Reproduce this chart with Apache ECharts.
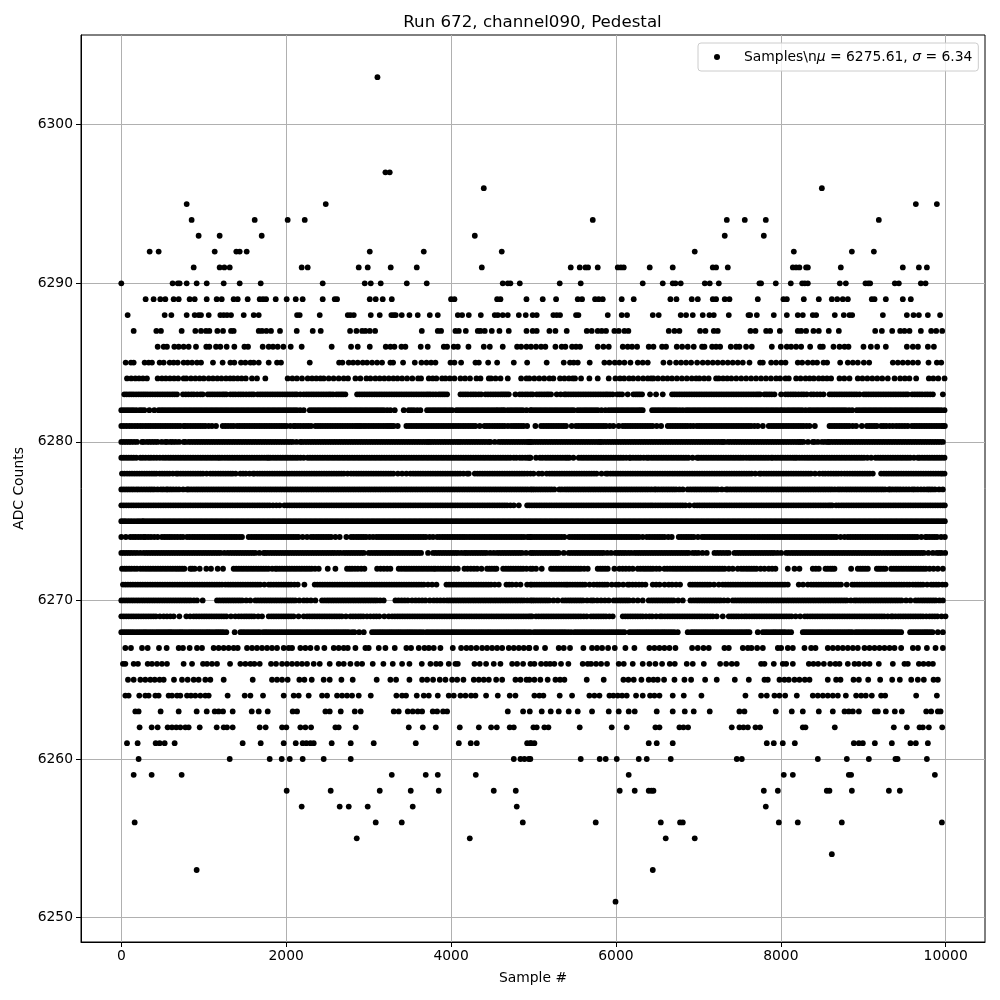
<!DOCTYPE html>
<html><head><meta charset="utf-8">
<script src="https://cdn.jsdelivr.net/npm/echarts@6/dist/echarts.min.js"></script>
<style>html,body{margin:0;padding:0;background:#fff}#c{width:1000px;height:1000px}</style>
</head><body><div id="c"></div>
<script>
const xTicks=[0,2000,4000,6000,8000,10000];
const yTicks=[6250,6260,6270,6280,6290,6300];
const r6303=[3107];
const r6297=[3204,3256];
const r6296=[4397,8498];
const r6295=[793,2480,9638,9893];
const r6294=[853,1618,2018,2225,5719,7345,7563,7818,9189];
const r6293=[938,1193,1703,4288,7320,7794];
const r6292=[344,453,1133,1395,1436,1521,3014,3669,4615,6956,8158,8862,9129];
const r6291=[878,1193,1250,1315,2188,2261,2880,2989,3268,3584,4373,5452,5561,5630,5662,5779,6022,6060,6095,6410,6689,7175,7215,7357,8146,8186,8226,8307,8328,8728,9480,9675,9772];
const r6290=[0,622,685,708,793,914,1036,1242,1436,1691,2443,2953,3026,3147,3463,3705,4627,4688,4720,4834,5318,5573,6325,6568,6689,6722,6786,7078,7138,7248,7741,7761,7939,8121,8259,8291,8328,8716,8789,9027,9060,9084,9383,9432,9699,9756];
const r6289=[295,392,473,534,635,696,829,890,1036,1157,1218,1363,1412,1533,1679,1719,1756,1873,2006,2116,2200,2443,2589,2617,3014,3086,3171,3281,4000,4041,4559,4599,4915,5112,5274,5537,5589,5747,5791,5840,6070,6216,6661,6734,6920,6993,7175,7215,7320,7377,7721,8032,8073,8279,8461,8619,8684,8752,8813,9104,9137,9274,9480,9577];
const r6288=[77,526,607,793,890,938,967,1060,1201,1242,1283,1331,1485,1606,1667,2132,2164,2407,2747,2779,2820,3026,3135,3276,3305,3329,3402,3495,3596,3742,3839,4082,4134,4215,4361,4530,4567,4627,4688,4822,4906,4990,5039,5241,5282,5322,5516,5545,5901,6070,6135,6447,6519,6786,6851,6932,7053,7134,7187,7369,7608,7628,7709,7915,8073,8206,8267,8388,8429,8655,8764,8833,8866,9238,9529,9610,9675,9784,9932];
const r6287=[150,425,481,732,898,967,1027,1068,1165,1234,1331,1363,1667,1707,1760,1816,1925,2128,2322,2419,2775,2852,2921,2961,3014,3079,3645,3839,3879,4053,4094,4179,4324,4357,4409,4494,4587,4700,4915,4990,5039,5193,5266,5403,5646,5706,5779,5828,5880,5981,6034,6103,6151,6641,6710,6770,7021,7086,7187,7235,7632,7693,7822,7871,7988,8206,8247,8307,8396,8461,8582,8704,9145,9226,9351,9448,9500,9561,9699,9824,9885,9958];
const r6286=[441,514,554,643,696,756,817,906,1031,1068,1149,1201,1278,1371,1493,1537,1715,1788,1840,1897,1966,2055,2188,2552,2787,2868,3014,3208,3264,3313,3398,3446,3632,3717,3912,3952,4033,4082,4211,4397,4470,4627,4801,4850,4915,4970,5031,5092,5144,5266,5342,5387,5468,5516,5565,5779,5848,5913,6083,6143,6196,6257,6398,6455,6560,6608,6738,6803,6871,6944,7045,7074,7167,7215,7264,7393,7458,7498,7579,7648,7891,8000,8073,8125,8186,8247,8356,8477,8510,8639,8712,8773,8821,9003,9092,9169,9274,9529,9602,9664,9784,9857];
const r6285=[53,117,150,283,332,372,465,514,587,635,684,756,805,858,918,967,1112,1229,1323,1371,1452,1505,1566,1606,1667,1788,1889,1937,2286,2642,2682,2759,2812,2868,2929,2981,3042,3103,3163,3264,3297,3418,3560,3641,3702,3758,3811,3993,4041,4122,4296,4337,4450,4559,4761,4923,5160,5367,5443,5488,5537,5682,5860,5921,5986,6042,6103,6176,6265,6325,6386,6576,6653,6730,6790,6851,6912,6985,7053,7114,7175,7235,7296,7357,7417,7478,7539,7620,7749,7782,7883,7943,8004,8057,8206,8259,8328,8388,8440,8518,8562,8720,8813,8874,8934,9007,9072,9359,9420,9480,9541,9602,9664,9792,9893,9946];
const r6284=[69,120,170,215,262,311,441,493,540,590,640,690,756,789,845,898,950,1000,1060,1112,1165,1215,1270,1320,1363,1412,1460,1510,1585,1646,1747,2018,2075,2130,2192,2261,2314,2365,2415,2455,2516,2575,2637,2698,2750,2840,2900,2973,3022,3082,3135,3190,3245,3300,3350,3406,3467,3530,3600,3636,3730,3778,3822,3891,3932,3985,4041,4114,4170,4230,4308,4357,4458,4486,4540,4600,4688,4850,4915,4950,5010,5070,5130,5193,5241,5322,5375,5430,5476,5504,5577,5678,5779,5913,5994,6050,6100,6160,6210,6270,6330,6386,6426,6455,6510,6570,6625,6680,6740,6800,6860,6920,6973,7013,7070,7125,7215,7248,7300,7350,7400,7460,7520,7580,7640,7700,7760,7820,7880,7943,7992,8057,8097,8186,8240,8300,8350,8400,8460,8510,8560,8610,8712,8770,8833,8934,8990,9050,9110,9170,9230,9298,9380,9448,9505,9560,9642,9796,9850,9910,9986];
const r6283=[36,95,150,210,265,320,380,440,500,560,620,676,748,815,880,959,987,1048,1105,1165,1225,1275,1323,1355,1420,1480,1550,1606,1654,1715,1775,1835,1895,1955,2015,2075,2130,2172,2213,2275,2335,2395,2455,2515,2569,2609,2665,2718,2860,2920,2980,3040,3100,3160,3220,3280,3340,3400,3460,3520,3580,3640,3700,3750,3782,3850,3900,3952,4114,4175,4240,4300,4365,4417,4480,4540,4600,4650,4700,4781,4834,4900,4963,4990,5039,5100,5160,5213,5282,5330,5375,5395,5455,5515,5575,5635,5695,5755,5815,5875,5929,5961,6015,6075,6143,6212,6265,6317,6414,6487,6568,6681,6740,6800,6860,6920,6980,7040,7100,7160,7220,7280,7340,7400,7460,7520,7580,7640,7700,7749,7802,7860,7923,8004,8057,8120,8180,8250,8315,8368,8440,8518,8591,8650,8710,8770,8830,8890,8955,9007,9065,9125,9185,9245,9305,9365,9425,9485,9541,9594,9655,9715,9780,9845,9966];
const e6283=[65,122,180,238,292,350,410,470,530,590,648,782,850,920,1076,1135,1195,1250,1385,1450,1515,1580,1685,1745,1805,1865,1925,1985,2045,2105,2245,2305,2365,2425,2485,2540,2637,2690,2890,2950,3010,3070,3130,3190,3250,3310,3370,3430,3490,3550,3610,3670,3725,3815,3875,3925,4145,4205,4270,4335,4448,4510,4570,4625,4675,4865,4930,5070,5130,5185,5425,5485,5545,5605,5665,5725,5785,5845,5900,6045,6240,6290,6710,6770,6830,6890,6950,7010,7070,7130,7190,7250,7310,7370,7430,7490,7550,7610,7670,7725,7830,7890,8088,8150,8215,8280,8400,8478,8620,8680,8740,8800,8860,8920,9035,9095,9155,9215,9275,9335,9395,9455,9515,9625,9685,9750,9812];
const r6282=[0,60,120,182,222,280,340,400,453,510,570,630,690,750,810,870,930,990,1050,1110,1170,1230,1290,1350,1410,1470,1530,1590,1650,1710,1770,1830,1890,1950,2010,2070,2130,2213,2286,2345,2405,2465,2525,2585,2645,2705,2765,2825,2885,2945,3005,3065,3125,3185,3264,3317,3426,3487,3550,3628,3709,3770,3830,3890,3950,4013,4065,4125,4185,4245,4305,4365,4425,4485,4545,4600,4648,4688,4750,4810,4870,4963,5010,5070,5130,5190,5250,5310,5370,5430,5488,5537,5600,5660,5720,5780,5872,5913,5975,6035,6095,6155,6215,6275,6325,6439,6500,6560,6620,6680,6740,6811,6851,6910,6970,7030,7090,7150,7210,7270,7330,7390,7450,7510,7570,7630,7690,7750,7810,7870,7930,7992,8016,8080,8140,8200,8260,8340,8368,8430,8490,8550,8610,8670,8730,8790,8866,8922,8985,9045,9105,9165,9225,9285,9345,9405,9465,9525,9585,9645,9705,9765,9825,9885,9946,9986];
const e6282=[30,90,150,250,482,540,600,660,720,780,840,900,960,1020,1080,1140,1200,1260,1320,1380,1440,1500,1560,1620,1680,1740,1800,1860,1920,1980,2040,2100,2170,2315,2375,2435,2495,2555,2615,2675,2735,2795,2855,2915,2975,3035,3095,3155,3225,3518,3590,3740,3800,3860,3920,3982,4095,4155,4215,4275,4335,4395,4455,4515,4570,4625,4720,4780,4840,4915,4980,5040,5100,5160,5220,5280,5340,5400,5460,5568,5630,5690,5750,5825,5944,6005,6065,6125,6185,6245,6300,6470,6530,6590,6650,6710,6775,6880,6940,7000,7060,7120,7180,7240,7300,7360,7420,7480,7540,7600,7660,7720,7780,7840,7900,7960,8048,8110,8170,8230,8300,8400,8460,8520,8580,8640,8700,8760,8828,8953,9015,9075,9135,9195,9255,9315,9375,9435,9495,9555,9615,9675,9735,9795,9855,9915];
const r6281=[0,65,130,198,231,295,355,415,475,535,595,655,715,756,777,840,900,960,1020,1100,1149,1230,1295,1363,1404,1465,1525,1585,1645,1705,1765,1825,1885,1945,2005,2091,2111,2175,2240,2302,2354,2415,2475,2535,2595,2655,2715,2775,2835,2885,2941,2969,3030,3090,3150,3210,3260,3305,3353,3458,3520,3580,3640,3700,3760,3820,3880,3940,4000,4060,4120,4180,4240,4296,4348,4405,4465,4530,4590,4650,4729,4761,4820,4880,4923,5023,5092,5155,5215,5275,5335,5395,5464,5516,5580,5640,5700,5760,5820,5880,5969,6034,6083,6145,6205,6265,6325,6385,6445,6548,6629,6690,6750,6810,6870,6940,6981,7040,7100,7160,7220,7280,7340,7400,7460,7520,7580,7640,7721,7782,7854,7915,7975,8035,8095,8155,8215,8275,8348,8413,8591,8650,8710,8770,8830,8914,8983,9044,9105,9165,9217,9280,9359,9400,9470,9541,9590,9650,9710,9770,9830,9890,9950,9990];
const e6281=[32,98,165,262,325,385,445,505,565,625,685,808,870,930,990,1060,1262,1330,1435,1495,1555,1615,1675,1735,1795,1855,1915,1975,2050,2143,2208,2270,2385,2445,2505,2565,2625,2685,2745,2805,2860,2910,3000,3060,3120,3180,3235,3282,3490,3550,3610,3670,3730,3790,3850,3910,3970,4030,4090,4150,4210,4268,4435,4498,4560,4620,4690,4790,4850,5124,5185,5245,5305,5365,5548,5610,5670,5730,5790,5850,5925,6114,6175,6235,6295,6355,6415,6495,6660,6720,6780,6840,6905,7010,7070,7130,7190,7250,7310,7370,7430,7490,7550,7610,7680,7885,7945,8005,8065,8125,8185,8245,8312,8620,8680,8740,8800,8872,9075,9135,9248,9320,9435,9505,9620,9680,9740,9800,9860,9920,9970];
const r6280=[0,60,120,190,251,271,311,375,440,534,554,595,660,756,777,817,880,940,1000,1060,1120,1180,1240,1300,1360,1420,1480,1540,1600,1660,1720,1780,1840,1900,1960,2020,2080,2172,2192,2255,2315,2375,2435,2495,2555,2615,2675,2735,2795,2855,2915,2975,3035,3095,3155,3215,3275,3335,3395,3455,3515,3575,3635,3695,3742,3770,3830,3890,3950,4010,4070,4122,4154,4215,4275,4335,4395,4458,4478,4579,4611,4670,4730,4790,4850,4910,4963,4950,5010,5070,5130,5190,5250,5310,5370,5430,5490,5550,5610,5670,5730,5790,5832,5895,5955,6015,6075,6135,6195,6255,6315,6375,6435,6495,6555,6615,6675,6735,6795,6855,6915,6975,7035,7095,7155,7215,7275,7316,7357,7420,7480,7540,7600,7660,7720,7780,7840,7900,7960,8020,8080,8140,8200,8247,8275,8388,8408,8500,8570,8582,8645,8705,8765,8825,8885,8945,9005,9065,9125,9185,9245,9305,9365,9425,9485,9545,9605,9665,9725,9785,9845,9905,9966];
const e6280=[30,90,155,342,408,490,625,700,848,910,970,1030,1090,1150,1210,1270,1330,1390,1450,1510,1570,1630,1690,1750,1810,1870,1930,1990,2050,2125,2225,2285,2345,2405,2465,2525,2585,2645,2705,2765,2825,2885,2945,3005,3065,3125,3185,3245,3305,3365,3425,3485,3545,3605,3665,3720,3800,3860,3920,3980,4040,4095,4185,4245,4305,4365,4425,4530,4640,4700,4760,4820,4880,4935,4980,5040,5100,5160,5220,5280,5340,5400,5460,5520,5580,5640,5700,5760,5810,5864,5925,5985,6045,6105,6165,6225,6285,6345,6405,6465,6525,6585,6645,6705,6765,6825,6885,6945,7005,7065,7125,7185,7245,7296,7388,7450,7510,7570,7630,7690,7750,7810,7870,7930,7990,8050,8110,8170,8225,8330,8450,8535,8613,8675,8735,8795,8855,8915,8975,9035,9095,9155,9215,9275,9335,9395,9455,9515,9575,9635,9695,9755,9815,9875,9935];
const r6279=[0,60,120,182,231,295,360,430,506,538,600,660,720,780,840,900,960,1020,1080,1140,1193,1222,1285,1345,1405,1465,1525,1585,1645,1705,1765,1808,1840,1900,1960,2020,2080,2140,2213,2261,2320,2380,2440,2500,2560,2620,2680,2740,2800,2860,2920,2980,3040,3100,3160,3220,3280,3340,3400,3460,3520,3580,3640,3700,3760,3820,3880,3940,4000,4060,4120,4180,4240,4300,4360,4420,4480,4540,4600,4660,4720,4761,4793,4834,4900,4963,4950,5031,5079,5145,5205,5265,5325,5385,5435,5484,5549,5610,5670,5730,5790,5850,5910,5970,6030,6090,6164,6176,6240,6300,6374,6398,6460,6520,6580,6640,6700,6760,6820,6880,6985,7005,7065,7125,7185,7245,7305,7365,7425,7485,7545,7612,7640,7700,7760,7820,7883,7903,7965,8025,8085,8145,8194,8226,8290,8350,8410,8470,8530,8590,8650,8710,8770,8830,8890,8950,9010,9096,9149,9210,9270,9330,9390,9450,9510,9570,9662,9683,9745,9805,9865,9925,9986];
const e6279=[30,90,150,262,330,395,468,570,630,690,750,810,870,930,990,1050,1110,1170,1255,1315,1375,1435,1495,1555,1615,1675,1735,1785,1870,1930,1990,2050,2110,2175,2290,2350,2410,2470,2530,2590,2650,2710,2770,2830,2890,2950,3010,3070,3130,3190,3250,3310,3370,3430,3490,3550,3610,3670,3730,3790,3850,3910,3970,4030,4090,4150,4210,4270,4330,4390,4450,4510,4570,4630,4690,4865,4930,5110,5175,5235,5295,5355,5410,5580,5640,5700,5760,5820,5880,5940,6000,6060,6125,6208,6270,6337,6430,6490,6550,6610,6670,6730,6790,6850,6930,7035,7095,7155,7215,7275,7335,7395,7455,7515,7580,7670,7730,7790,7850,7935,7995,8055,8115,8170,8258,8320,8380,8440,8500,8560,8620,8680,8740,8800,8860,8920,8980,9050,9180,9240,9300,9360,9420,9480,9540,9615,9714,9775,9835,9895,9955];
const r6278=[8,70,130,190,250,310,370,425,465,525,585,667,688,750,810,870,930,990,1080,1112,1175,1235,1295,1351,1387,1444,1510,1598,1614,1680,1740,1800,1860,1920,1980,2040,2100,2160,2220,2280,2340,2400,2460,2520,2580,2640,2700,2787,2819,2880,2940,3000,3060,3120,3180,3240,3300,3406,3458,3507,3570,3630,3690,3750,3810,3870,3930,3990,4050,4110,4195,4215,4288,4350,4410,4470,4530,4590,4650,4710,4770,4830,4890,4963,5063,5104,5160,5225,5285,5345,5405,5465,5525,5585,5645,5705,5765,5880,5901,5965,6025,6085,6145,6205,6265,6325,6385,6445,6505,6565,6625,6685,6745,6805,6865,6925,6985,7045,7105,7165,7225,7285,7345,7405,7465,7525,7585,7645,7741,7761,7825,7885,7945,8005,8065,8125,8185,8245,8305,8365,8469,8510,8575,8640,8700,8773,8805,8870,8930,8990,9050,9116,9217,9280,9340,9400,9460,9520,9580,9640,9700,9760,9820,9880,9940,9986];
const e6278=[38,100,160,220,280,340,398,495,555,625,720,780,840,900,960,1035,1143,1205,1265,1325,1477,1555,1650,1710,1770,1830,1890,1950,2010,2070,2130,2190,2250,2310,2370,2430,2490,2550,2610,2670,2745,2850,2910,2970,3030,3090,3150,3210,3270,3355,3540,3600,3660,3720,3780,3840,3900,3960,4020,4080,4150,4320,4380,4440,4500,4560,4620,4680,4740,4800,4860,4925,5000,5195,5255,5315,5375,5435,5495,5555,5615,5675,5735,5825,5935,5995,6055,6115,6175,6235,6295,6355,6415,6475,6535,6595,6655,6715,6775,6835,6895,6955,7015,7075,7135,7195,7255,7315,7375,7435,7495,7555,7615,7690,7795,7855,7915,7975,8035,8095,8155,8215,8275,8335,8415,8540,8608,8670,8735,8838,8900,8960,9020,9080,9250,9310,9370,9430,9490,9550,9610,9670,9730,9790,9850,9910,9960];
const r6277=[0,60,120,182,210,275,340,400,480,546,566,630,700,797,817,880,940,1000,1060,1120,1180,1240,1300,1360,1420,1480,1540,1600,1660,1720,1780,1840,1900,1960,2020,2080,2140,2200,2260,2320,2380,2440,2500,2560,2620,2680,2740,2800,2860,2920,2980,3040,3100,3160,3220,3280,3340,3400,3460,3520,3580,3640,3700,3760,3820,3880,3940,4000,4060,4120,4180,4240,4300,4360,4420,4480,4540,4600,4660,4720,4780,4840,4900,4963,5010,5070,5130,5190,5253,5314,5380,5440,5500,5560,5620,5680,5740,5800,5860,5920,5980,6040,6100,6160,6220,6280,6340,6400,6467,6487,6550,6610,6670,6730,6811,6871,6935,6995,7055,7115,7175,7235,7337,7357,7420,7480,7540,7600,7660,7720,7780,7840,7900,7960,8020,8080,8140,8200,8260,8320,8380,8440,8500,8560,8620,8692,8720,8785,8845,8905,8965,9025,9085,9145,9205,9265,9310,9327,9390,9450,9520,9594,9622,9700,9776,9804,9870,9966];
const e6277=[30,90,150,242,308,370,440,510,598,665,750,848,910,970,1030,1090,1150,1210,1270,1330,1390,1450,1510,1570,1630,1690,1750,1810,1870,1930,1990,2050,2110,2170,2230,2290,2350,2410,2470,2530,2590,2650,2710,2770,2830,2890,2950,3010,3070,3130,3190,3250,3310,3370,3430,3490,3550,3610,3670,3730,3790,3850,3910,3970,4030,4090,4150,4210,4270,4330,4390,4450,4510,4570,4630,4690,4750,4810,4870,4930,4985,5040,5100,5160,5220,5345,5410,5470,5530,5590,5650,5710,5770,5830,5890,5950,6010,6070,6130,6190,6250,6310,6370,6432,6518,6580,6640,6700,6770,6903,6965,7025,7085,7145,7205,7285,7388,7450,7510,7570,7630,7690,7750,7810,7870,7930,7990,8050,8110,8170,8230,8290,8350,8410,8470,8530,8590,8655,8752,8815,8875,8935,8995,9055,9115,9175,9235,9358,9420,9485,9555,9660,9738,9835,9920];
const r6276=[0,60,120,180,240,300,360,420,480,540,600,660,720,780,840,900,960,1020,1080,1140,1200,1260,1320,1380,1440,1500,1560,1620,1680,1740,1800,1881,1921,1978,2040,2100,2160,2220,2280,2340,2400,2460,2520,2580,2640,2700,2760,2820,2880,2940,3000,3060,3120,3180,3240,3300,3360,3420,3480,3540,3600,3660,3720,3780,3840,3900,3960,4020,4080,4140,4200,4260,4320,4380,4440,4500,4560,4620,4680,4761,4822,4923,4950,5010,5070,5130,5190,5250,5310,5370,5430,5490,5550,5610,5670,5730,5790,5850,5910,5970,6030,6090,6150,6210,6270,6330,6390,6447,6479,6540,6600,6660,6720,6780,6843,6892,6952,7015,7075,7135,7195,7255,7315,7375,7435,7495,7555,7615,7675,7735,7795,7855,7915,7975,8035,8095,8155,8215,8275,8335,8395,8455,8515,8575,8623,8671,8735,8795,8855,8915,8975,9035,9095,9155,9215,9275,9335,9395,9455,9515,9575,9635,9695,9755,9815,9875,9935,9990];
const e6276=[30,90,150,210,270,330,390,450,510,570,630,690,750,810,870,930,990,1050,1110,1170,1230,1290,1350,1410,1470,1530,1590,1650,1710,1770,1840,2010,2070,2130,2190,2250,2310,2370,2430,2490,2550,2610,2670,2730,2790,2850,2910,2970,3030,3090,3150,3210,3270,3330,3390,3450,3510,3570,3630,3690,3750,3810,3870,3930,3990,4050,4110,4170,4230,4290,4350,4410,4470,4530,4590,4650,4720,4980,5040,5100,5160,5220,5280,5340,5400,5460,5520,5580,5640,5700,5760,5820,5880,5940,6000,6060,6120,6180,6240,6300,6360,6420,6510,6570,6630,6690,6750,6810,6985,7045,7105,7165,7225,7285,7345,7405,7465,7525,7585,7645,7705,7765,7825,7885,7945,8005,8065,8125,8185,8245,8305,8365,8425,8485,8545,8600,8703,8765,8825,8885,8945,9005,9065,9125,9185,9245,9305,9365,9425,9485,9545,9605,9665,9725,9785,9845,9905,9965];
const r6275=[0,55,120,190,251,271,330,390,450,510,570,630,690,750,810,870,930,990,1050,1110,1170,1230,1290,1350,1410,1470,1530,1590,1650,1710,1770,1830,1890,1950,2010,2070,2130,2190,2250,2310,2370,2430,2490,2550,2610,2670,2730,2790,2850,2910,2970,3030,3090,3150,3210,3270,3330,3390,3450,3510,3570,3630,3690,3750,3810,3870,3930,3990,4050,4110,4170,4230,4290,4350,4410,4470,4530,4590,4650,4710,4770,4830,4890,4950,5010,5070,5130,5190,5250,5310,5370,5430,5490,5550,5610,5670,5730,5790,5850,5910,5970,6030,6090,6150,6210,6270,6330,6390,6450,6510,6570,6630,6690,6750,6810,6870,6930,6990,7050,7110,7170,7230,7290,7350,7410,7470,7530,7590,7650,7710,7770,7830,7890,7950,8010,8070,8130,8190,8250,8310,8370,8430,8490,8550,8610,8670,8730,8790,8850,8910,8970,9030,9090,9150,9210,9270,9330,9390,9450,9510,9570,9630,9690,9750,9810,9870,9930,9990];
const e6275=[28,88,155,220,300,360,420,480,540,600,660,720,780,840,900,960,1020,1080,1140,1200,1260,1320,1380,1440,1500,1560,1620,1680,1740,1800,1860,1920,1980,2040,2100,2160,2220,2280,2340,2400,2460,2520,2580,2640,2700,2760,2820,2880,2940,3000,3060,3120,3180,3240,3300,3360,3420,3480,3540,3600,3660,3720,3780,3840,3900,3960,4020,4080,4140,4200,4260,4320,4380,4440,4500,4560,4620,4680,4740,4800,4860,4920,4980,5040,5100,5160,5220,5280,5340,5400,5460,5520,5580,5640,5700,5760,5820,5880,5940,6000,6060,6120,6180,6240,6300,6360,6420,6480,6540,6600,6660,6720,6780,6840,6900,6960,7020,7080,7140,7200,7260,7320,7380,7440,7500,7560,7620,7680,7740,7800,7860,7920,7980,8040,8100,8160,8220,8280,8340,8400,8460,8520,8580,8640,8700,8760,8820,8880,8940,9000,9060,9120,9180,9240,9300,9360,9420,9480,9540,9600,9660,9720,9780,9840,9900,9960];
const r6274=[0,109,142,205,271,291,360,441,493,555,615,680,748,797,860,920,980,1040,1100,1160,1220,1280,1340,1400,1464,1545,1610,1670,1730,1790,1850,1910,1970,2030,2090,2150,2253,2302,2365,2425,2485,2545,2649,2730,2787,2850,2910,2970,3054,3094,3155,3215,3275,3335,3395,3455,3515,3575,3635,3695,3782,3831,3895,3955,4015,4075,4134,4162,4225,4285,4345,4405,4465,4525,4585,4645,4705,4765,4825,4885,4963,4950,5010,5070,5130,5190,5250,5310,5375,5435,5500,5560,5620,5680,5740,5800,5860,5920,5980,6040,6100,6160,6220,6280,6374,6406,6470,6530,6590,6677,6762,6825,6885,6945,7045,7074,7135,7195,7255,7315,7375,7435,7495,7555,7615,7680,7713,7775,7835,7895,7955,8015,8075,8135,8195,8255,8315,8375,8435,8495,8555,8615,8675,8773,8813,8875,8935,8995,9055,9115,9175,9235,9295,9355,9415,9475,9535,9595,9655,9756,9772,9835,9895,9990];
const e6274=[55,172,238,325,400,525,585,648,715,828,890,950,1010,1070,1130,1190,1250,1310,1370,1432,1578,1640,1700,1760,1820,1880,1940,2000,2060,2120,2200,2333,2395,2455,2515,2597,2818,2880,2940,3012,3125,3185,3245,3305,3365,3425,3485,3545,3605,3665,3740,3863,3925,3985,4045,4105,4193,4255,4315,4375,4435,4495,4555,4615,4675,4735,4795,4855,4925,4980,5040,5100,5160,5220,5280,5342,5468,5530,5590,5650,5710,5770,5830,5890,5950,6010,6070,6130,6190,6250,6325,6438,6500,6560,6635,6793,6855,6915,6995,7105,7165,7225,7285,7345,7405,7465,7525,7585,7648,7744,7805,7865,7925,7985,8045,8105,8165,8225,8285,8345,8405,8465,8525,8585,8645,8725,8844,8905,8965,9025,9085,9145,9205,9265,9325,9385,9445,9505,9565,9625,9705,9803,9865,9945];
const r6273=[0,60,120,190,271,303,365,425,485,545,605,665,725,785,845,905,965,1025,1085,1145,1205,1290,1323,1385,1445,1505,1565,1625,1727,1747,1810,1870,1930,1990,2050,2110,2170,2230,2290,2350,2410,2470,2530,2590,2658,2698,2760,2820,2880,2941,3001,3065,3125,3185,3244,3272,3335,3395,3455,3515,3575,3636,3721,3782,3845,3905,3965,4025,4085,4162,4187,4250,4310,4370,4430,4518,4559,4620,4680,4740,4800,4860,4963,5010,5070,5130,5190,5250,5306,5367,5427,5490,5550,5610,5670,5730,5790,5850,5941,5994,6055,6115,6184,6224,6285,6345,6405,6465,6525,6585,6645,6705,6765,6825,6883,6932,7000,7102,7195,7265,7337,7369,7438,7500,7560,7620,7680,7740,7800,7860,7920,8004,8065,8130,8190,8250,8310,8370,8430,8490,8550,8610,8670,8730,8790,8850,8910,8970,9030,9090,9150,9210,9278,9310,9375,9435,9495,9555,9615,9675,9735,9845,9893,9950,9994];
const e6273=[30,90,155,230,334,395,455,515,575,635,695,755,815,875,935,995,1055,1115,1175,1250,1354,1415,1475,1535,1595,1675,1778,1840,1900,1960,2020,2080,2140,2200,2260,2320,2380,2440,2500,2560,2625,2729,2790,2850,2910,3033,3095,3155,3215,3303,3365,3425,3485,3545,3605,3813,3875,3935,3995,4055,4125,4218,4280,4340,4400,4475,4590,4650,4710,4770,4830,4910,4985,5040,5100,5160,5220,5278,5458,5520,5580,5640,5700,5760,5820,5895,6025,6085,6150,6255,6315,6375,6435,6495,6555,6615,6675,6735,6795,6855,6965,7050,7230,7300,7470,7530,7590,7650,7710,7770,7830,7890,7960,8097,8160,8220,8280,8340,8400,8460,8520,8580,8640,8700,8760,8820,8880,8940,9000,9060,9120,9180,9245,9343,9405,9465,9525,9585,9645,9705,9790,9922];
const r6272=[8,65,125,190,231,295,355,415,475,535,595,655,710,765,837,890,951,1031,1088,1169,1234,1363,1425,1485,1545,1605,1665,1725,1785,1869,1889,1950,2010,2070,2130,2190,2250,2310,2395,2504,2597,2738,2800,2870,2949,3103,3185,3264,3365,3430,3490,3550,3610,3670,3730,3790,3810,3875,3935,3995,4082,4162,4240,4316,4369,4437,4495,4551,4632,4695,4755,4815,4875,4963,5031,5100,5213,5275,5335,5395,5455,5515,5575,5658,5779,5840,5901,5981,6042,6120,6204,6265,6330,6390,6450,6528,6588,6657,6720,6780,6840,6900,6960,7020,7080,7140,7200,7260,7320,7417,7478,7519,7585,7645,7705,7802,7854,7935,8085,8166,8226,8388,8461,8542,8600,8651,8853,8934,8995,9056,9165,9215,9270,9339,9400,9460,9520,9580,9640,9700,9760,9853,9905,9966];
const e6272=[38,95,158,263,325,385,445,505,565,625,682,738,860,1394,1455,1515,1575,1635,1695,1755,1830,1920,1980,2040,2100,2160,2220,2280,2350,2770,2835,2910,3145,3225,3397,3460,3520,3580,3640,3700,3760,3842,3905,3965,4040,4200,4278,4466,4525,4665,4725,4785,4845,4915,4990,5244,5305,5365,5425,5485,5545,5615,5810,5870,6082,6160,6297,6360,6420,6490,6622,6690,6750,6810,6870,6930,6990,7050,7110,7170,7230,7290,7370,7552,7615,7675,7755,7895,8425,8570,8625,8965,9025,9190,9243,9370,9430,9490,9550,9610,9670,9730,9805];
const r6271=[20,80,140,200,260,320,380,440,500,560,620,680,740,800,860,920,980,1040,1100,1160,1222,1262,1325,1385,1445,1505,1565,1625,1685,1788,1816,1880,1940,2000,2060,2140,2221,2346,2410,2470,2530,2590,2650,2710,2770,2830,2890,2950,3010,3070,3130,3190,3250,3310,3370,3430,3490,3550,3610,3670,3770,3823,3944,4005,4065,4125,4185,4245,4305,4365,4425,4485,4579,4672,4740,4842,4923,4963,5010,5070,5130,5190,5250,5310,5370,5415,5443,5505,5565,5625,5731,5771,5835,5895,6002,6034,6143,6164,6240,6317,6358,6447,6530,6641,6681,6778,6900,6960,7020,7080,7140,7248,7296,7360,7420,7480,7540,7600,7660,7720,7780,7840,7900,7960,8020,8085,8218,8328,8368,8430,8490,8550,8610,8670,8730,8866,8894,8955,9015,9075,9135,9195,9255,9315,9375,9435,9495,9561,9602,9665,9725,9824,9853,9915,9998];
const e6271=[50,110,170,230,290,350,410,470,530,590,650,710,770,830,890,950,1010,1070,1130,1190,1295,1355,1415,1475,1535,1595,1655,1735,1848,1910,1970,2030,2100,2378,2440,2500,2560,2620,2680,2740,2800,2860,2920,2980,3040,3100,3160,3220,3280,3340,3400,3460,3520,3580,3640,3720,3975,4035,4095,4155,4215,4275,4335,4395,4455,4530,4705,4790,4980,5040,5100,5160,5220,5280,5340,5395,5474,5535,5595,5680,5803,5865,5950,6088,6202,6280,6488,6590,6730,6930,6990,7050,7110,7190,7328,7390,7450,7510,7570,7630,7690,7750,7810,7870,7930,7990,8050,8270,8399,8460,8520,8580,8640,8700,8800,8925,8985,9045,9105,9165,9225,9285,9345,9405,9465,9530,9635,9695,9775,9885,9960];
const r6270=[0,60,120,180,240,300,360,420,480,540,600,660,720,780,840,918,987,1161,1225,1285,1345,1405,1465,1565,1626,1690,1750,1810,1870,1930,1990,2050,2110,2213,2253,2354,2435,2500,2560,2620,2680,2740,2800,2860,2920,2980,3040,3100,3183,3325,3400,3475,3527,3610,3689,3742,3790,3870,3952,3984,4045,4105,4165,4225,4285,4345,4405,4465,4525,4585,4645,4705,4765,4825,4885,4963,5010,5070,5130,5190,5294,5355,5420,5480,5540,5600,5698,5727,5820,5913,5973,6040,6100,6160,6265,6325,6398,6460,6520,6580,6640,6700,6811,6904,6970,7030,7090,7150,7210,7270,7357,7417,7480,7540,7600,7660,7720,7780,7840,7900,7960,8020,8080,8140,8200,8260,8320,8380,8440,8500,8560,8620,8680,8740,8800,8894,8922,8985,9045,9105,9165,9225,9285,9345,9405,9465,9573,9634,9700,9760,9820,9880,9966];
const e6270=[30,90,150,210,270,330,390,450,510,570,630,690,750,810,880,1193,1255,1315,1375,1435,1515,1658,1720,1780,1840,1900,1960,2020,2080,2160,2300,2468,2530,2590,2650,2710,2770,2830,2890,2950,3010,3070,3140,3362,3437,3570,3650,3830,3912,4015,4075,4135,4195,4255,4315,4375,4435,4495,4555,4615,4675,4735,4795,4855,4925,4985,5040,5100,5160,5242,5388,5450,5510,5570,5650,5773,5866,6006,6070,6130,6210,6430,6490,6550,6610,6670,6755,6937,7000,7060,7120,7180,7240,7310,7448,7510,7570,7630,7690,7750,7810,7870,7930,7990,8050,8110,8170,8230,8290,8350,8410,8470,8530,8590,8650,8710,8770,8850,8955,9015,9075,9135,9195,9255,9315,9375,9435,9520,9667,9730,9790,9850,9925];
const r6269=[0,60,120,180,240,300,360,420,514,554,635,704,789,878,910,975,1035,1095,1155,1215,1275,1383,1424,1490,1550,1610,1707,1788,1850,1910,1970,2030,2090,2213,2253,2315,2375,2435,2495,2555,2615,2675,2779,2811,2875,2935,3022,3062,3130,3244,3285,3350,3410,3470,3530,3590,3650,3710,3770,3830,3890,3950,4010,4070,4130,4190,4250,4310,4370,4430,4490,4550,4610,4670,4730,4790,4850,4910,4963,4982,5031,5095,5155,5215,5275,5335,5395,5455,5515,5575,5646,5698,5760,5820,5880,5961,6083,6145,6205,6265,6325,6406,6439,6536,6560,6625,6685,6745,6805,6865,6925,6985,7045,7110,7175,7223,7296,7369,7430,7490,7559,7587,7650,7710,7770,7830,7890,7950,8010,8070,8130,8235,8291,8355,8415,8475,8535,8595,8655,8715,8775,8835,8895,8955,9015,9075,9135,9195,9255,9339,9359,9425,9485,9545,9605,9665,9725,9804,9836,9900,9998];
const e6269=[30,90,150,210,270,330,390,468,595,835,943,1005,1065,1125,1185,1245,1330,1457,1520,1580,1660,1820,1880,1940,2000,2060,2150,2284,2345,2405,2465,2525,2585,2645,2725,2843,2905,2980,3095,3190,3318,3380,3440,3500,3560,3620,3680,3740,3800,3860,3920,3980,4040,4100,4160,4220,4280,4340,4400,4460,4520,4580,4640,4700,4760,4820,4880,4940,5063,5125,5185,5245,5305,5365,5425,5485,5545,5610,5729,5790,5850,5920,6114,6175,6235,6295,6365,6488,6593,6655,6715,6775,6835,6895,6955,7015,7078,7143,7400,7460,7525,7618,7680,7740,7800,7860,7920,7980,8040,8100,8180,8323,8385,8445,8505,8565,8625,8685,8745,8805,8865,8925,8985,9045,9105,9165,9225,9297,9392,9455,9515,9575,9635,9695,9765,9868,9950];
const r6268=[0,50,100,150,205,260,310,365,420,470,520,570,615,643,700,750,810,865,920,975,1030,1080,1140,1190,1240,1274,1375,1444,1500,1560,1620,1679,1719,1770,1825,1880,1935,1990,2045,2100,2155,2210,2265,2320,2375,2430,2485,2540,2595,2650,2705,2760,2799,2828,2885,2941,3042,3100,3155,3210,3265,3320,3375,3430,3485,3540,3600,3661,3701,3760,3820,3880,3940,4000,4025,4080,4135,4190,4245,4300,4355,4410,4465,4520,4575,4630,4685,4740,4795,4850,4905,4963,5005,5060,5115,5170,5225,5280,5335,5390,5456,5496,5550,5605,5660,5715,5770,5825,5880,5935,5990,6045,6103,6164,6220,6275,6330,6385,6440,6495,6550,6600,6655,6710,6750,6871,6912,6965,7020,7075,7130,7185,7240,7295,7350,7405,7460,7515,7570,7620,7721,7782,7840,7900,7950,8004,8055,8125,8267,8320,8375,8430,8485,8540,8595,8650,8705,8760,8815,8866,8906,8960,9015,9070,9125,9180,9235,9290,9345,9400,9460,9569,9625,9680,9735,9785,9840,9905,9966];
const e6268=[25,75,125,178,232,285,338,392,445,495,545,592,672,725,780,838,892,948,1002,1055,1110,1165,1215,1472,1530,1590,1650,1745,1798,1852,1908,1962,2018,2072,2128,2182,2238,2292,2348,2402,2458,2512,2568,2622,2678,2732,3071,3128,3182,3238,3292,3348,3402,3458,3512,3570,3630,3730,3790,3850,3910,3970,4052,4108,4162,4218,4272,4328,4382,4438,4492,4548,4602,4658,4712,4768,4822,4878,4935,5032,5088,5142,5198,5252,5308,5362,5422,5522,5578,5632,5688,5742,5798,5852,5908,5962,6018,6074,6192,6248,6302,6358,6412,6468,6522,6575,6628,6682,6938,6992,7048,7102,7158,7212,7268,7322,7378,7432,7488,7542,7595,7811,7870,7925,7978,8030,8090,8293,8348,8402,8458,8512,8568,8622,8678,8732,8788,8840,8933,8988,9042,9098,9152,9208,9262,9318,9372,9430,9597,9652,9708,9760,9812];
const r6267=[49,117,251,320,457,550,696,748,829,918,979,1120,1181,1242,1302,1363,1412,1525,1586,1646,1707,1768,1828,1889,1970,2031,2071,2172,2233,2294,2374,2463,2577,2637,2698,2747,2840,2961,3001,3123,3204,3317,3458,3515,3608,3677,3730,3790,3871,4021,4122,4187,4243,4308,4377,4437,4498,4559,4620,4700,4761,4822,4882,4943,4950,5031,5140,5306,5367,5443,5605,5710,5771,5832,5905,5986,6115,6224,6406,6467,6528,6588,6649,6722,6924,6993,7062,7126,7316,7369,7539,7600,7644,7713,7782,7964,8004,8085,8146,8287,8368,8421,8570,8631,8692,8752,8813,8874,8934,9015,9076,9137,9197,9258,9319,9379,9460,9602,9664,9772,9877,9966];
const r6266=[20,49,150,202,320,372,433,493,554,756,858,991,1040,1100,1161,1319,1444,1505,1566,1614,1679,1816,1877,1950,2010,2071,2132,2192,2253,2334,2407,2528,2637,2698,2779,2860,2921,3050,3179,3293,3406,3495,3645,3750,3819,3871,3972,4053,4082,4284,4348,4425,4518,4599,4741,4801,4874,4963,5011,5092,5152,5201,5253,5334,5423,5597,5658,5698,5759,5820,5892,6034,6095,6204,6325,6406,6479,6560,6653,6714,6859,6932,7066,7264,7337,7405,7466,7761,7802,7915,8024,8065,8146,8340,8396,8453,8522,8599,8663,8712,8813,8894,8947,9015,9076,9189,9359,9500,9541,9675,9731,9792,9845];
const r6265=[81,150,231,291,352,405,465,514,639,736,805,878,938,1019,1080,1242,1594,1828,1889,1950,2018,2160,2221,2310,2455,2528,2670,2807,3098,3264,3333,3495,3649,3710,3782,3863,3932,4013,4074,4150,4276,4337,4397,4458,4547,4620,4781,4842,4915,4950,5011,5083,5172,5266,5322,5375,5646,5852,6091,6151,6216,6309,6398,6455,6507,6584,6710,6831,6912,7082,7223,7442,7612,7802,7842,7984,8044,8097,8166,8226,8291,8348,8570,8671,8724,8882,8947,9060,9205,9351,9444,9582,9662,9735,9853,9905];
const r6264=[49,89,218,291,332,413,453,574,615,676,716,797,845,898,959,1019,1060,1290,1497,1566,1719,1970,2091,2152,2273,2435,2496,2617,2678,2738,2799,2880,3026,3337,3406,3454,3584,3669,3730,3839,3972,4033,4114,4175,4243,4296,4425,4567,4712,4781,5011,5071,5120,5318,5468,5678,5739,5800,5921,5969,6022,6075,6131,6244,6325,6414,6467,6528,6689,6823,7037,7571,7761,7830,7923,7984,8053,8194,8388,8449,8510,8570,8631,8692,8789,8914,8975,9031,9104,9217,9266,9642,9893];
const r6263=[170,210,477,696,914,1036,1133,1181,1234,1351,1582,1667,1776,2079,2132,2476,2528,2662,2832,2904,3305,3365,3475,3535,3596,3649,3778,3831,3903,3952,4688,4874,4955,5100,5209,5306,5427,5537,5710,5913,6034,6155,6228,6495,6689,6835,6944,7138,7498,7559,7939,8133,8267,8461,8631,8773,8825,8874,8947,9141,9177,9274,9383,9468,9764,9824,9905,9938];
const r6262=[222,368,441,562,615,667,716,777,817,951,1157,1242,1282,1351,1679,1751,1950,2002,2172,2233,2302,2597,2637,2844,3487,3657,3815,4106,4337,4486,4555,4712,4761,4999,5039,5132,5181,5561,5949,6131,6479,6528,6770,6819,6875,7405,7498,7547,7600,7693,7749,8267,8299,8655,9371,9529,9683,9723,9796,9958];
const r6261=[69,198,417,465,526,647,1472,1691,1970,2116,2200,2245,2294,2334,2552,2783,3062,3572,4094,4239,4312,4923,4963,4970,5011,6398,6495,6689,7830,7915,8024,8170,8886,8947,8995,9141,9347,9573,9638,9784];
const r6260=[210,1315,1800,1946,2043,2200,2455,2783,4761,4842,4890,4943,4962,5573,5803,5876,6010,6277,6374,6665,7466,7527,8449,8801,9068,9391,9416,9772];
const r6259=[150,368,732,3281,3693,3839,4300,6155,8036,8146,8825,8853,9869];
const r6258=[2006,2540,3135,3511,3851,4518,4785,6046,6228,6398,6430,6455,7794,7964,8558,8590,8862,9311,9444];
const r6257=[2188,2649,2759,2989,3535,4797,7818];
const r6256=[162,3086,3402,4870,5755,6544,6778,6811,7976,8206,8740,9954];
const r6255=[2856,4227,6604,6956];
const r6254=[8619];
const r6253=[914,6447];
const r6251=[5995];
const levels=[[6303,r6303],[6297,r6297],[6296,r6296],[6295,r6295],[6294,r6294],[6293,r6293],[6292,r6292],[6291,r6291],[6290,r6290],[6289,r6289],[6288,r6288],[6287,r6287],[6286,r6286],[6285,r6285],[6284,r6284],[6283,r6283],[6283,e6283],[6282,r6282],[6282,e6282],[6281,r6281],[6281,e6281],[6280,r6280],[6280,e6280],[6279,r6279],[6279,e6279],[6278,r6278],[6278,e6278],[6277,r6277],[6277,e6277],[6276,r6276],[6276,e6276],[6275,r6275],[6275,e6275],[6274,r6274],[6274,e6274],[6273,r6273],[6273,e6273],[6272,r6272],[6272,e6272],[6271,r6271],[6271,e6271],[6270,r6270],[6270,e6270],[6269,r6269],[6269,e6269],[6268,r6268],[6268,e6268],[6267,r6267],[6266,r6266],[6265,r6265],[6264,r6264],[6263,r6263],[6262,r6262],[6261,r6261],[6260,r6260],[6259,r6259],[6258,r6258],[6257,r6257],[6256,r6256],[6255,r6255],[6254,r6254],[6253,r6253],[6251,r6251]];
const points=[];
levels.forEach(([v,xs])=>xs.forEach(x=>points.push([x,v])));
const F='"DejaVu Sans"';
const tickStyle={show:true,length:5,inside:false,lineStyle:{color:'#000',width:1}};
const chart=echarts.init(document.getElementById('c'),null,{renderer:'canvas'});
chart.setOption({
  animation:false,
  backgroundColor:'#fff',
  textStyle:{fontFamily:F},
  title:{text:'Run 672, channel090, Pedestal',left:527.5,top:9,textAlign:'center',
    textStyle:{fontFamily:F,fontSize:16.67,fontWeight:'normal',color:'#000'}},
  grid:{left:81,top:35,width:904,height:907,show:true,borderColor:'#000',borderWidth:1,backgroundColor:'#fff'},
  xAxis:{type:'value',min:-489,max:10477,splitNumber:5,
    name:'Sample #',nameLocation:'middle',nameGap:29,nameTextStyle:{fontFamily:F,fontSize:13.89,color:'#000'},
    axisLine:{show:true,onZero:false,lineStyle:{color:'#000',width:1}},
    axisTick:{...tickStyle,customValues:xTicks},
    axisLabel:{customValues:xTicks,color:'#000',fontFamily:F,fontSize:13.89,margin:7,formatter:v=>String(v)},
    splitLine:{show:true,lineStyle:{color:'#b0b0b0',width:1}}},
  yAxis:{type:'value',min:6248.46,max:6305.66,splitNumber:5,
    name:'ADC Counts',nameLocation:'middle',nameGap:50,nameTextStyle:{fontFamily:F,fontSize:13.89,color:'#000'},
    axisLine:{show:true,onZero:false,lineStyle:{color:'#000',width:1}},
    axisTick:{...tickStyle,customValues:yTicks},
    axisLabel:{customValues:yTicks,color:'#000',fontFamily:F,fontSize:13.89,margin:8,formatter:v=>String(v)},
    splitLine:{show:true,lineStyle:{color:'#b0b0b0',width:1}}},
  legend:{show:true,left:698,top:43,orient:'horizontal',icon:'circle',itemWidth:6,itemHeight:6,
    padding:[7,6,7,16],backgroundColor:'rgba(255,255,255,0.8)',borderColor:'#cccccc',borderWidth:1,borderRadius:3,
    data:['Samples'],
    itemStyle:{color:'#000',opacity:1},
    formatter:()=>'{g|}{t|Samples\\n}{i|μ}{t| = 6275.61, }{i|σ}{t| = 6.34}',
    textStyle:{color:'#000',fontFamily:F,fontSize:13.89,
      rich:{g:{width:19},t:{fontFamily:F,fontSize:13.89,color:'#000'},i:{fontFamily:F,fontSize:13.89,fontStyle:'italic',color:'#000'}}}},
  series:[{name:'Samples',type:'scatter',data:points,symbol:'circle',symbolSize:5.8,
    itemStyle:{color:'#000',opacity:1},silent:true,large:false,clip:true}]
});
</script></body></html>
